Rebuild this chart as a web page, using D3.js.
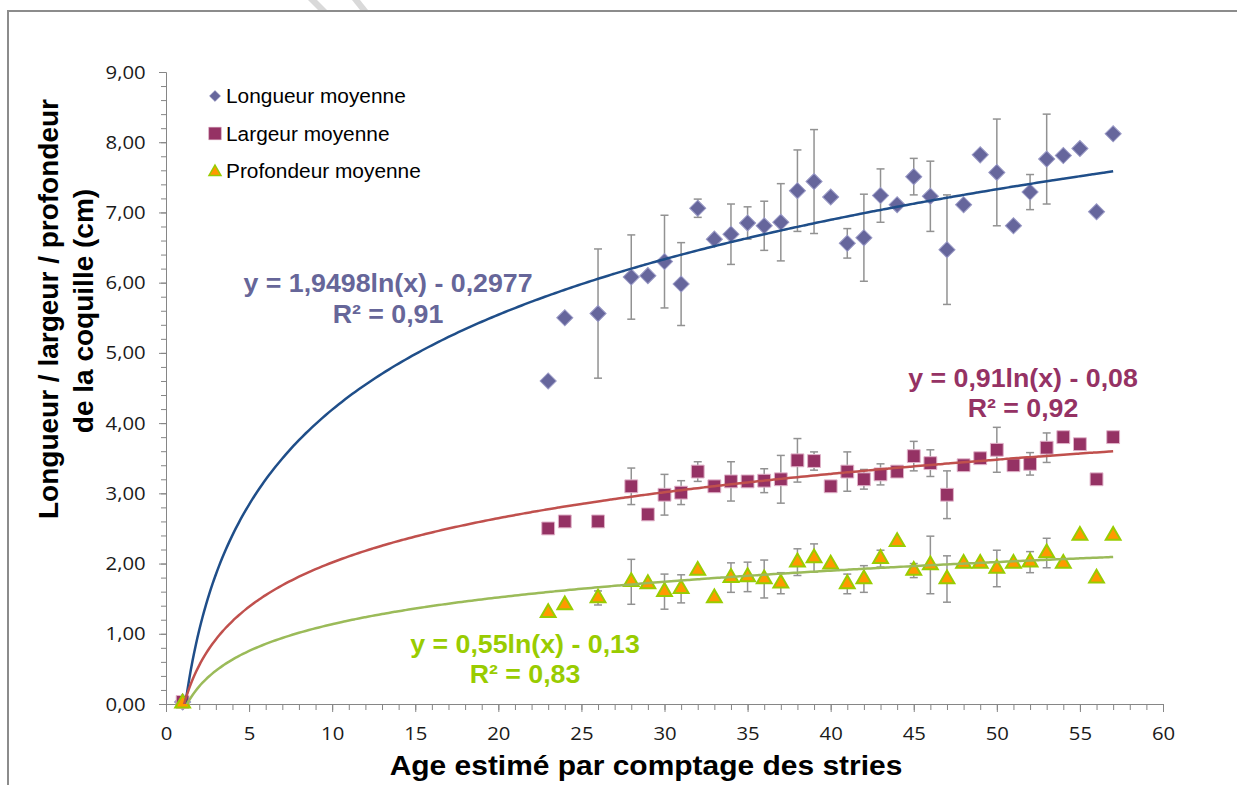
<!DOCTYPE html>
<html>
<head>
<meta charset="utf-8">
<script src="https://cdn.jsdelivr.net/npm/d3@7"></script>
<style>
  body { margin: 0; background: #fff; }
  svg { display: block; }
</style>
</head>
<body>
<div id="chart"></div>
<script>
// Data
var ages = [1, 23, 24, 26, 28, 29, 30, 31, 32, 33, 34, 35, 36, 37, 38, 39, 40, 41, 42, 43, 44, 45, 46, 47, 48, 49, 50, 51, 52, 53, 54, 55, 56, 57];

var longueur = [0.03, 4.60, 5.50, 5.56, 6.08, 6.10, 6.30, 5.98, 7.06, 6.62, 6.69, 6.85, 6.81, 6.86, 7.31, 7.44, 7.22, 6.56, 6.64, 7.24, 7.11, 7.51, 7.23, 6.47, 7.11, 7.82, 7.57, 6.81, 7.29, 7.76, 7.81, 7.91, 7.01, 8.12];
var longueurErr = [0, 0, 0, 0.92, 0.60, 0, 0.66, 0.59, 0.13, 0, 0.43, 0.23, 0.35, 0.55, 0.58, 0.74, 0, 0.21, 0.62, 0.38, 0, 0.26, 0.50, 0.78, 0, 0, 0.76, 0, 0.25, 0.64, 0, 0, 0, 0];

var largeur = [0.03, 2.50, 2.60, 2.60, 3.10, 2.70, 2.98, 3.01, 3.31, 3.10, 3.17, 3.17, 3.18, 3.20, 3.47, 3.46, 3.10, 3.31, 3.20, 3.27, 3.31, 3.53, 3.43, 2.98, 3.40, 3.50, 3.62, 3.40, 3.42, 3.65, 3.80, 3.70, 3.20, 3.80];
var largeurErr = [0, 0, 0, 0, 0.26, 0, 0.29, 0.17, 0.14, 0, 0.28, 0.05, 0.17, 0.34, 0.31, 0.13, 0, 0.28, 0.14, 0.15, 0, 0.21, 0.19, 0.34, 0, 0, 0.32, 0, 0.16, 0.21, 0, 0, 0, 0];

var profondeur = [0.01, 1.30, 1.41, 1.51, 1.74, 1.71, 1.60, 1.64, 1.90, 1.51, 1.80, 1.81, 1.78, 1.72, 2.02, 2.08, 1.99, 1.71, 1.78, 2.07, 2.31, 1.90, 1.98, 1.78, 2.00, 2.00, 1.93, 2.00, 2.02, 2.15, 2.00, 2.40, 1.79, 2.40];
var profondeurErr = [0, 0, 0, 0.10, 0.32, 0, 0.25, 0.20, 0, 0, 0.21, 0.21, 0.27, 0.15, 0.19, 0.20, 0, 0.14, 0.19, 0.12, 0, 0.10, 0.41, 0.33, 0, 0, 0.26, 0, 0.15, 0.21, 0, 0, 0, 0];

var seriesNames = ["Longueur moyenne", "Largeur moyenne", "Profondeur moyenne"];

// trend lines y = a ln(x) + b
var trendA = [1.9498, 0.91, 0.55];
var trendB = [-0.2977, -0.08, -0.13];
var trendText = ["y = 1,9498ln(x) - 0,2977", "y = 0,91ln(x) - 0,08", "y = 0,55ln(x) - 0,13"];
var r2Text = ["R² = 0,91", "R² = 0,92", "R² = 0,83"];

var xTicks = [0, 5, 10, 15, 20, 25, 30, 35, 40, 45, 50, 55, 60];
var yTicks = [0, 1, 2, 3, 4, 5, 6, 7, 8, 9];

// Sizes
var svgWidth = 1237;
var svgHeight = 785;
var stretch = 1.07; // text in the picture is a bit wide

var svg = d3.select("#chart")
    .append("svg")
    .attr("width", svgWidth)
    .attr("height", svgHeight);

// outer frame (only left and top show)
svg.append("path")
    .attr("d", "M8,785 L8,11 L1237,11")
    .attr("fill", "none")
    .attr("stroke", "#8c8c8c")
    .attr("stroke-width", 2);

// grey marks at the top edge
svg.append("path").attr("d", "M308,0 L317,0 L327,10 L318,10 Z").attr("fill", "#d9d9d9");
svg.append("path").attr("d", "M352,0 L360,0 L368,10 L360,10 Z").attr("fill", "#d9d9d9");

var x = d3.scaleLinear().domain([0, 60]).range([166, 1163]);
var y = d3.scaleLinear().domain([0, 9]).range([704, 72]);

var axisColor = "#868686";
var tickFont = "'Open Sans', sans-serif";

// Y axis: minor ticks then majors with labels
var yMinor = svg.append("g")
    .attr("transform", "translate(166,0)")
    .call(d3.axisLeft(y).tickValues(d3.range(0, 46).map(i => i * 0.2)).tickSize(5).tickSizeOuter(0).tickFormat(""));
var yMajor = svg.append("g")
    .attr("transform", "translate(166,0)")
    .call(d3.axisLeft(y).tickValues(yTicks).tickSize(7).tickSizeOuter(0).tickPadding(12)
        .tickFormat(d => d.toFixed(2).replace(".", ",")));

// X axis
var xMinor = svg.append("g")
    .attr("transform", "translate(0,704)")
    .call(d3.axisBottom(x).tickValues(d3.range(0, 61)).tickSize(6).tickSizeOuter(0).tickFormat(""));
var xMajor = svg.append("g")
    .attr("transform", "translate(0,704)")
    .call(d3.axisBottom(x).tickValues(xTicks).tickSize(8).tickSizeOuter(0).tickPadding(15));

[yMinor, yMajor, xMinor, xMajor].forEach(function(g) {
    g.selectAll("path, line").attr("stroke", axisColor).attr("stroke-width", 1);
    g.selectAll("text")
        .attr("fill", "#1a1a1a")
        .style("font-family", tickFont)
        .style("font-size", "19px")
        .attr("transform", `scale(${stretch},1)`);
});

// Axis titles
svg.append("text")
    .attr("transform", `translate(646,775) scale(${stretch},1)`)
    .attr("text-anchor", "middle")
    .style("font-family", "Arial, 'Liberation Sans', sans-serif")
    .style("font-weight", "bold")
    .style("font-size", "28px")
    .text("Age estimé par comptage des stries");

svg.append("text")
    .attr("transform", "translate(58,309) rotate(-90)")
    .attr("text-anchor", "middle")
    .style("font-family", "Arial, 'Liberation Sans', sans-serif")
    .style("font-weight", "bold")
    .style("font-size", "28px")
    .text("Longueur / largeur / profondeur");
svg.append("text")
    .attr("transform", "translate(93,311) rotate(-90)")
    .attr("text-anchor", "middle")
    .style("font-family", "Arial, 'Liberation Sans', sans-serif")
    .style("font-weight", "bold")
    .style("font-size", "28px")
    .text("de la coquille (cm)");

// Series setup
var values = [longueur, largeur, profondeur];
var errors = [longueurErr, largeurErr, profondeurErr];
var markerFill = ["#66669c", "#953264", "#ff9900"];
var markerStroke = ["#9a9ac6", "#e0b3c9", "#99cc00"];
var markerStrokeW = [1, 1, 2];
var trendColor = ["#1f4e89", "#c0504d", "#9bbb59"];
var labelColor = ["#666699", "#953264", "#99cc00"];

function symbolPath(i, big) {
    if (i === 0) return d3.symbol().type(d3.symbolSquare).size(big ? 130 : 62)();
    if (i === 1) return d3.symbol().type(d3.symbolSquare).size(big ? 165 : 160)();
    return d3.symbol().type(d3.symbolTriangle).size(big ? 95 : 62)();
}
function symbolRot(i) { return i === 0 ? " rotate(45)" : ""; }

var plot = svg.append("g");

values.forEach(function(vals, s) {
    var pts = ages.map((a, i) => ({ age: a, v: vals[i], e: errors[s][i] }));
    var withErr = pts.filter(d => d.e > 0);

    // error bars under markers
    var eb = plot.append("g").attr("stroke", "#929292").attr("stroke-width", 1.5);
    eb.selectAll("line.v").data(withErr).enter().append("line")
        .attr("x1", d => x(d.age)).attr("x2", d => x(d.age))
        .attr("y1", d => y(d.v + d.e)).attr("y2", d => y(d.v - d.e));
    eb.selectAll("line.t").data(withErr).enter().append("line")
        .attr("x1", d => x(d.age) - 4).attr("x2", d => x(d.age) + 4)
        .attr("y1", d => y(d.v + d.e)).attr("y2", d => y(d.v + d.e));
    eb.selectAll("line.b").data(withErr).enter().append("line")
        .attr("x1", d => x(d.age) - 4).attr("x2", d => x(d.age) + 4)
        .attr("y1", d => y(d.v - d.e)).attr("y2", d => y(d.v - d.e));

    plot.append("g").selectAll("path").data(pts).enter().append("path")
        .attr("d", symbolPath(s, true))
        .attr("transform", d => `translate(${x(d.age)},${y(d.v)})` + symbolRot(s))
        .attr("fill", markerFill[s])
        .attr("stroke", markerStroke[s])
        .attr("stroke-width", markerStrokeW[s]);
});

// trend lines on top, clipped to plot area
svg.append("clipPath").attr("id", "clip")
    .append("rect").attr("x", 166).attr("y", 72).attr("width", 997).attr("height", 632);

var xs = d3.range(1, 57.001, 0.2);
var line = d3.line().x(d => x(d[0])).y(d => y(d[1])).curve(d3.curveMonotoneX);
trendA.forEach(function(a, s) {
    svg.append("path")
        .attr("clip-path", "url(#clip)")
        .attr("d", line(xs.map(t => [t, a * Math.log(t) + trendB[s]])))
        .attr("fill", "none")
        .attr("stroke", trendColor[s])
        .attr("stroke-width", 2.5);
});

// equation labels (line 1, then R² line centred under it)
var eqPos = [
    { x: 388, y: 292, y2: 323 },
    { x: 1023, y: 387, y2: 417 },
    { x: 525, y: 653, y2: 683 }
];
eqPos.forEach(function(p, s) {
    svg.append("text")
        .attr("transform", `translate(${p.x},${p.y}) scale(${stretch},1)`)
        .attr("text-anchor", "middle")
        .attr("fill", labelColor[s])
        .style("font-family", "Arial, 'Liberation Sans', sans-serif")
        .style("font-weight", "bold")
        .style("font-size", "25px")
        .text(trendText[s]);
    svg.append("text")
        .attr("transform", `translate(${p.x},${p.y2}) scale(${stretch},1)`)
        .attr("text-anchor", "middle")
        .attr("fill", labelColor[s])
        .style("font-family", "Arial, 'Liberation Sans', sans-serif")
        .style("font-weight", "bold")
        .style("font-size", "25px")
        .text(r2Text[s]);
});

// legend
var legend = svg.append("g");
seriesNames.forEach(function(name, s) {
    var ly = 96 + s * 37.5;
    legend.append("path")
        .attr("d", symbolPath(s, false))
        .attr("transform", `translate(215,${ly + (s === 2 ? 1 : 0)})` + symbolRot(s))
        .attr("fill", markerFill[s])
        .attr("stroke", markerStroke[s])
        .attr("stroke-width", s === 2 ? 1.5 : 0.5);
    legend.append("text")
        .attr("transform", `translate(226,${ly + 7}) scale(${stretch},1)`)
        .style("font-family", "Arial, 'Liberation Sans', sans-serif")
        .style("font-size", "19.5px")
        .attr("fill", "#000")
        .text(name);
});
</script>
</body>
</html>
